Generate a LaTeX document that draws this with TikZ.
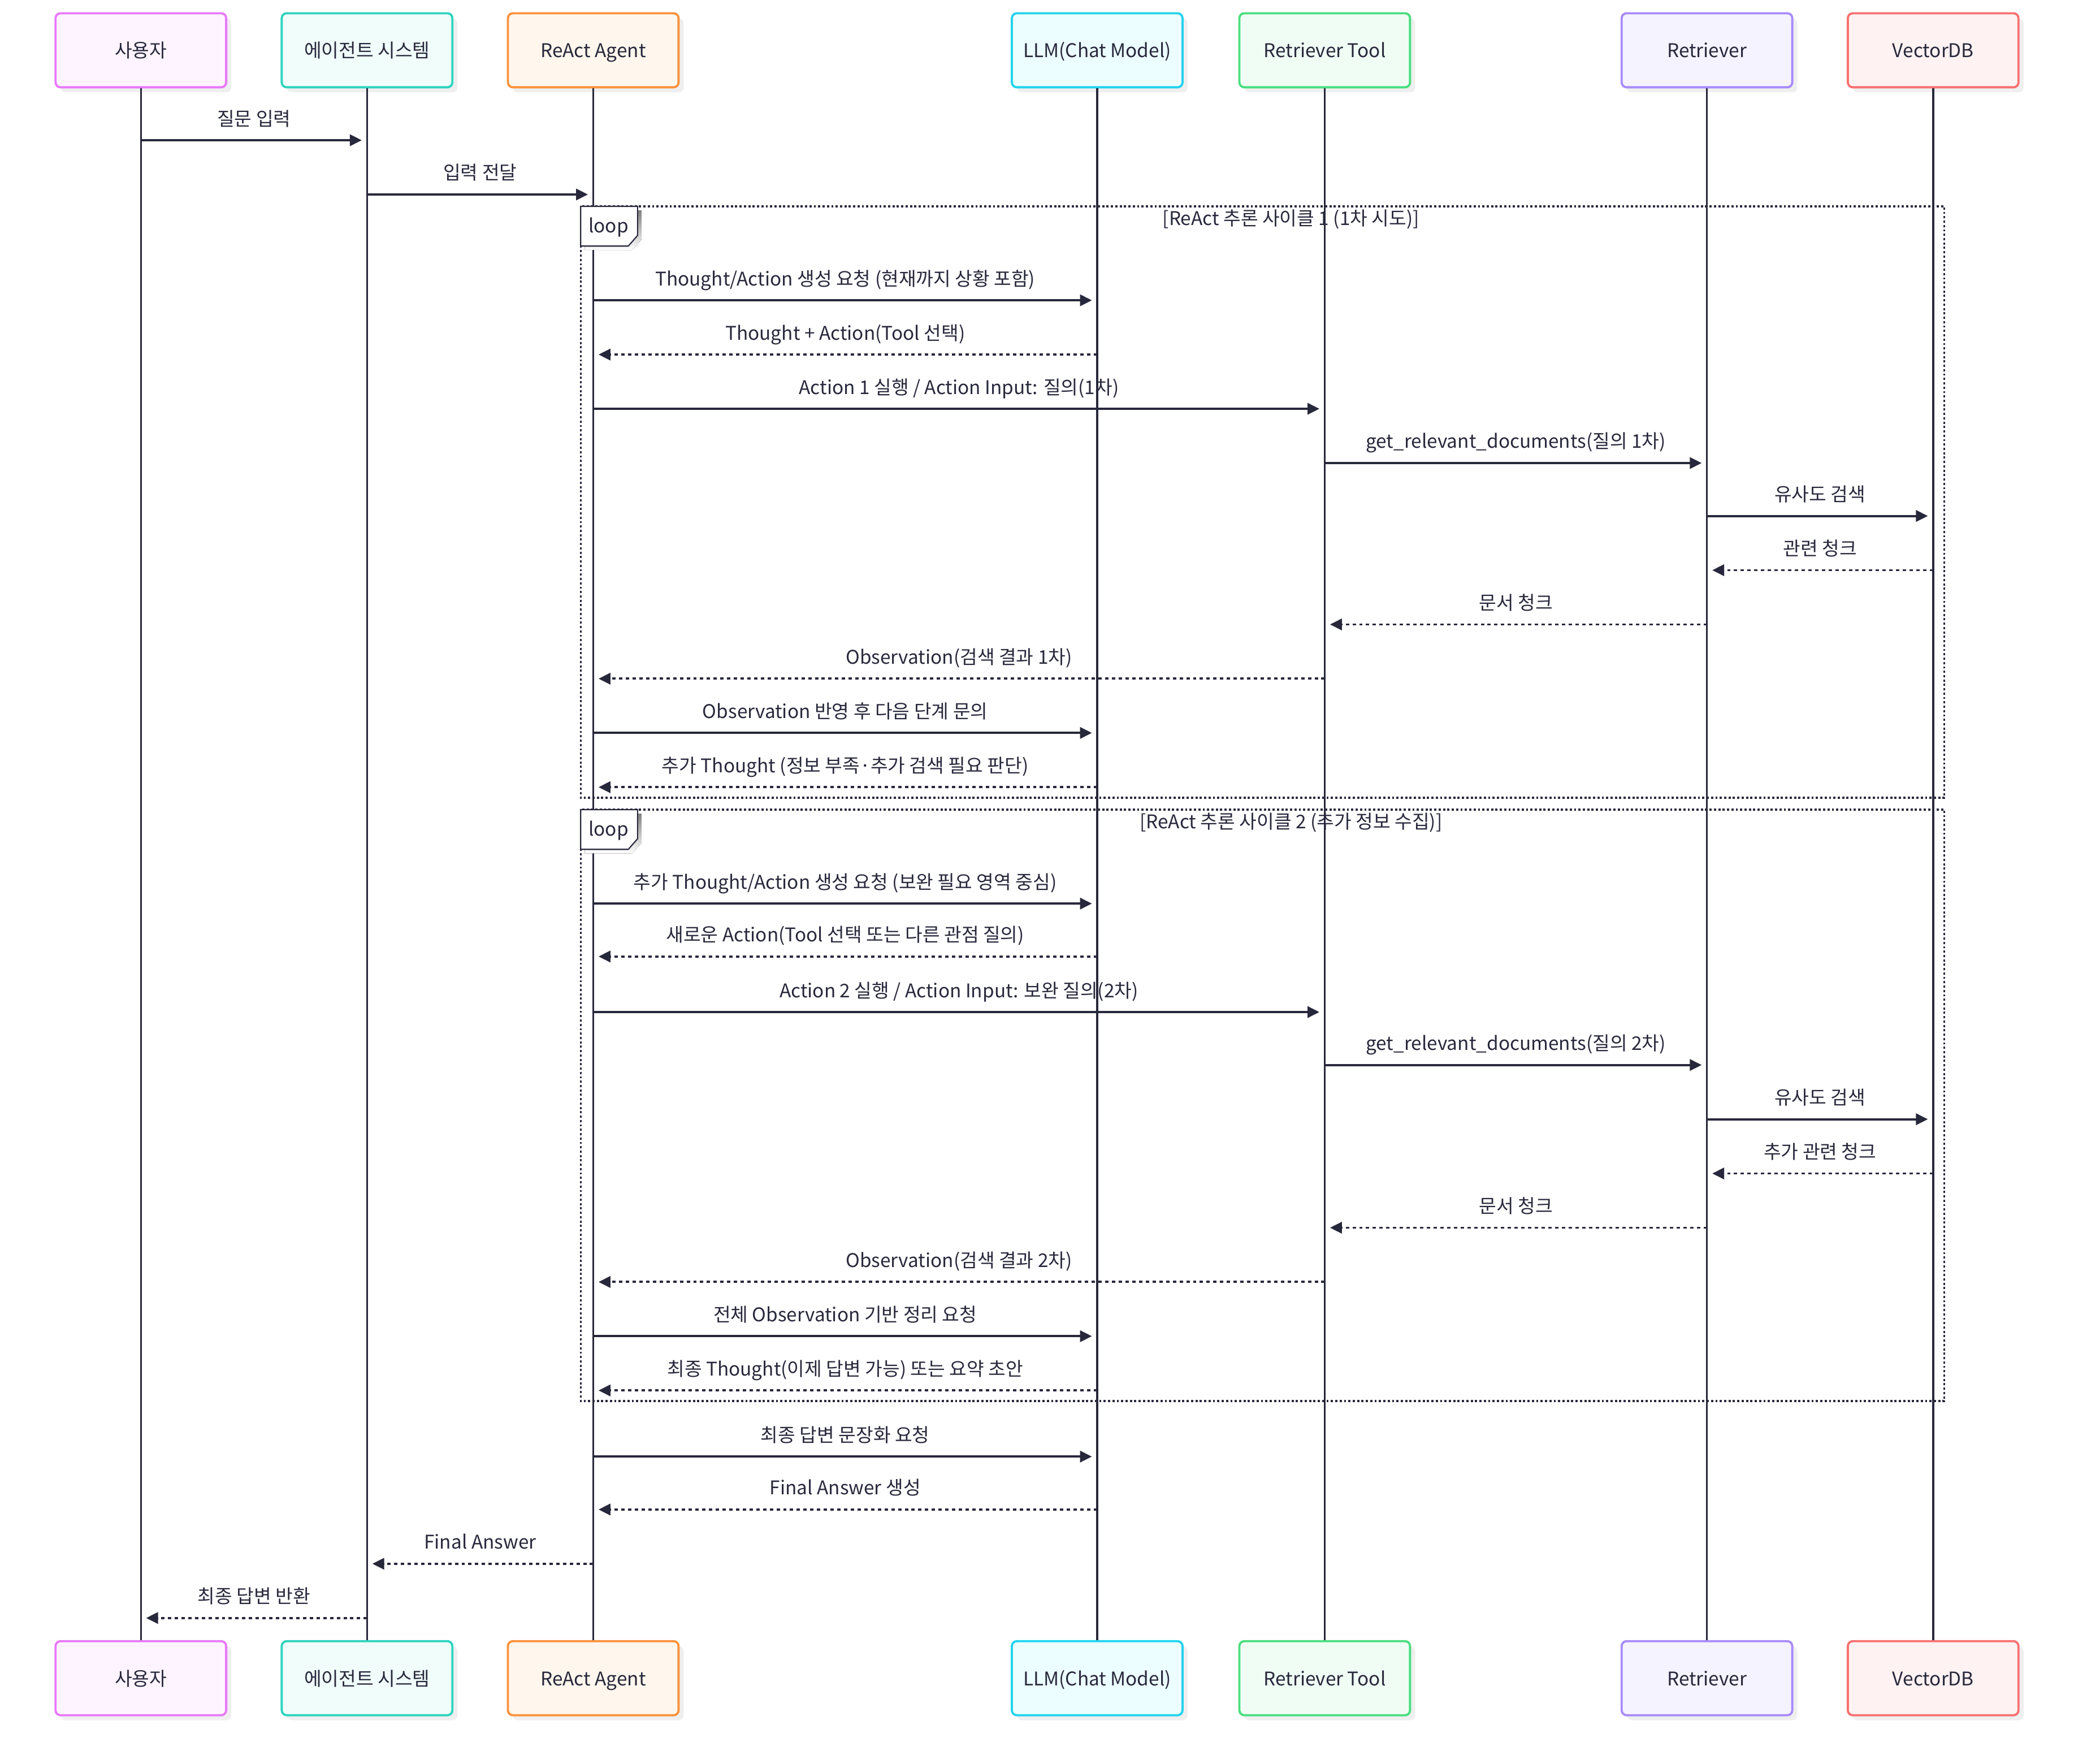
\documentclass[tikz,border=0pt]{standalone}
\usepackage{fontspec}
\setmainfont{Noto Sans CJK KR}
\usetikzlibrary{arrows.meta,shadows}
\definecolor{ink}{HTML}{28283C}
\definecolor{shade}{HTML}{EFEFEF}
\definecolor{bUser}{HTML}{E879F9}\definecolor{fUser}{HTML}{FDF4FF}
\definecolor{bSys}{HTML}{2DD4BF}\definecolor{fSys}{HTML}{F0FDFA}
\definecolor{bAg}{HTML}{FB923C}\definecolor{fAg}{HTML}{FFF7ED}
\definecolor{bLlm}{HTML}{22D3EE}\definecolor{fLlm}{HTML}{ECFEFF}
\definecolor{bTool}{HTML}{4ADE80}\definecolor{fTool}{HTML}{F0FDF4}
\definecolor{bRet}{HTML}{A78BFA}\definecolor{fRet}{HTML}{F5F3FF}
\definecolor{bVdb}{HTML}{F87171}\definecolor{fVdb}{HTML}{FEF2F2}
\newcommand{\seqmsg}[5]{\draw[#1] (#2 |- 0,#4) -- node[msglabel]{#5} (#3 |- 0,#4);}
\tikzset{
  actor/.style={draw, rounded corners=2.5pt, line width=1.1pt, minimum width=3.02cm,
    minimum height=1.31cm, inner sep=0pt, text=ink, text height=0.30cm, text depth=0.04cm,
    drop shadow={shadow xshift=0.09cm, shadow yshift=-0.09cm, fill=shade, opacity=1}},
  lifeline/.style={draw=ink, line width=0.95pt},
  solidmsg/.style={draw=ink, line width=1.1pt, -{Triangle[length=0.21cm,width=0.2cm]}, shorten >=0.094cm},
  dotmsg/.style={solidmsg, dash pattern=on 1.7pt off 1.7pt},
  msglabel/.style={midway, anchor=base, yshift=0.26cm, text=ink, inner sep=0pt, solid},
  loopline/.style={draw=ink, line width=0.9pt, dash pattern=on 1.1pt off 1.1pt},
  looptitle/.style={text=ink, inner sep=0pt},
}
\begin{document}
\begin{tikzpicture}[x=0.0234cm, y=-0.0234cm, font=\fontsize{9.5}{11}\selectfont]
\useasboundingbox (0,0) rectangle (1568,1333);

% actors top
\node[actor, draw=bUser, fill=fUser] (ut) at (106.5,38) {사용자};
\node[actor, draw=bSys, fill=fSys] (st) at (277.5,38) {에이전트 시스템};
\node[actor, draw=bAg, fill=fAg] (at) at (448.5,38) {ReAct Agent};
\node[actor, draw=bLlm, fill=fLlm] (lt) at (829.5,38) {LLM(Chat Model)};
\node[actor, draw=bTool, fill=fTool] (tt) at (1001.5,38) {Retriever Tool};
\node[actor, draw=bRet, fill=fRet] (rt) at (1290.5,38) {Retriever};
\node[actor, draw=bVdb, fill=fVdb] (vt) at (1461.5,38) {VectorDB};
% actors bottom
\node[actor, draw=bUser, fill=fUser] (ub) at (106.5,1268.5) {사용자};
\node[actor, draw=bSys, fill=fSys] (sb) at (277.5,1268.5) {에이전트 시스템};
\node[actor, draw=bAg, fill=fAg] (ab) at (448.5,1268.5) {ReAct Agent};
\node[actor, draw=bLlm, fill=fLlm] (lb) at (829.5,1268.5) {LLM(Chat Model)};
\node[actor, draw=bTool, fill=fTool] (tb) at (1001.5,1268.5) {Retriever Tool};
\node[actor, draw=bRet, fill=fRet] (rb) at (1290.5,1268.5) {Retriever};
\node[actor, draw=bVdb, fill=fVdb] (vb) at (1461.5,1268.5) {VectorDB};

% lifelines
\foreach \a/\b in {ut/ub, st/sb, at/ab, lt/lb, tt/tb, rt/rb, vt/vb}
  \draw[lifeline] (\a.south) -- (\b.north);

% loop frames
\draw[loopline] (439,156) rectangle (1470,603);
\draw[loopline] (439,612) rectangle (1470,1059);
\foreach \yy/\nm in {156/la, 612/lc}{
  \fill[shade] (442,\yy+3) -- (485,\yy+3) -- (485,\yy+25) -- (478,\yy+33) -- (442,\yy+33) -- cycle;
  \draw[fill=white, draw=ink, line width=0.6pt] (439,\yy) -- (482,\yy) -- (482,\yy+22) -- (475,\yy+30) -- (439,\yy+30) -- cycle;
  \node[text=ink, inner sep=0pt] (\nm) at (460,\yy+16) {loop};
}
\node[looptitle] (t1) at (976,166) {[ReAct 추론 사이클 1 (1차 시도)]};
\node[looptitle] (t2) at (976,622) {[ReAct 추론 사이클 2 (추가 정보 수집)]};

% messages
\seqmsg{solidmsg}{ut}{st}{106}{질문 입력}
\seqmsg{solidmsg}{st}{at}{147}{입력 전달}
\seqmsg{solidmsg}{at}{lt}{227}{Thought/Action 생성 요청 (현재까지 상황 포함)}
\seqmsg{dotmsg}{lt}{at}{268}{Thought + Action(Tool 선택)}
\seqmsg{solidmsg}{at}{tt}{309}{Action 1 실행 / Action Input: 질의(1차)}
\seqmsg{solidmsg}{tt}{rt}{350}{get\_relevant\_documents(질의 1차)}
\seqmsg{solidmsg}{rt}{vt}{390}{유사도 검색}
\seqmsg{dotmsg}{vt}{rt}{431}{관련 청크}
\seqmsg{dotmsg}{rt}{tt}{472}{문서 청크}
\seqmsg{dotmsg}{tt}{at}{513}{Observation(검색 결과 1차)}
\seqmsg{solidmsg}{at}{lt}{554}{Observation 반영 후 다음 단계 문의}
\seqmsg{dotmsg}{lt}{at}{595}{추가 Thought (정보 부족·추가 검색 필요 판단)}
\seqmsg{solidmsg}{at}{lt}{683}{추가 Thought/Action 생성 요청 (보완 필요 영역 중심)}
\seqmsg{dotmsg}{lt}{at}{723}{새로운 Action(Tool 선택 또는 다른 관점 질의)}
\seqmsg{solidmsg}{at}{tt}{765}{Action 2 실행 / Action Input: 보완 질의(2차)}
\seqmsg{solidmsg}{tt}{rt}{805}{get\_relevant\_documents(질의 2차)}
\seqmsg{solidmsg}{rt}{vt}{846}{유사도 검색}
\seqmsg{dotmsg}{vt}{rt}{887}{추가 관련 청크}
\seqmsg{dotmsg}{rt}{tt}{928}{문서 청크}
\seqmsg{dotmsg}{tt}{at}{969}{Observation(검색 결과 2차)}
\seqmsg{solidmsg}{at}{lt}{1010}{전체 Observation 기반 정리 요청}
\seqmsg{dotmsg}{lt}{at}{1051}{최종 Thought(이제 답변 가능) 또는 요약 초안}
\seqmsg{solidmsg}{at}{lt}{1101}{최종 답변 문장화 요청}
\seqmsg{dotmsg}{lt}{at}{1141}{Final Answer 생성}
\seqmsg{dotmsg}{at}{st}{1182}{Final Answer}
\seqmsg{dotmsg}{st}{ut}{1223}{최종 답변 반환}
\end{tikzpicture}
\end{document}
